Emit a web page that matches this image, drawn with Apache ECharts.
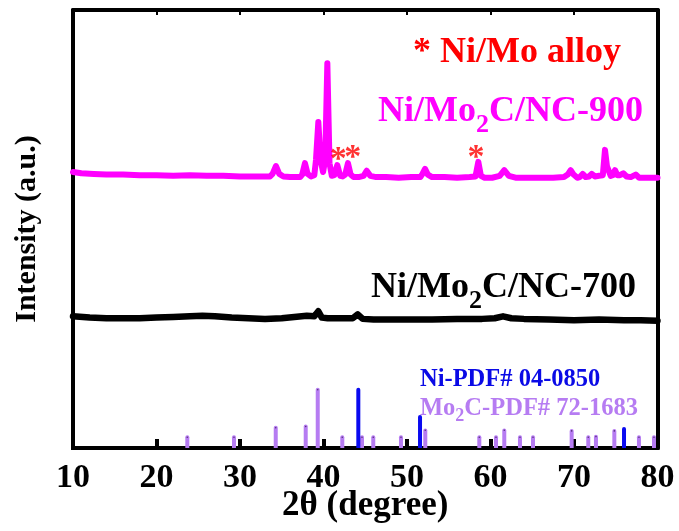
<!DOCTYPE html>
<html><head><meta charset="utf-8">
<script src="https://cdn.jsdelivr.net/npm/echarts@6/dist/echarts.min.js"></script>
<style>html,body{margin:0;padding:0;background:#fff}#c{width:679px;height:531px}</style>
</head><body><div id="c"></div>
<script>
// ---- data ----
const xMin = 10, xMax = 80, xStep = 10;
const xTickLabels = ['10','20','30','40','50','60','70','80'];

const t900 = [10,11,12.5,14,16,18,20,22,24,26,28,30,32,33.6,33.9,34.31,34.7,35.2,36,37.2,37.45,37.78,38.1,38.5,38.9,39.1,39.38,39.65,39.95,40.2,40.46,40.72,41.0,41.3,41.65,42.0,42.3,42.6,42.93,43.25,43.6,44.2,44.8,45.17,45.6,46.3,47.5,49,50.5,51.6,51.85,52.16,52.5,53,54.5,56,57.5,58.2,58.54,58.85,59.3,60.2,61.1,61.65,62.2,63,64.5,66,67.5,68.8,69.25,69.6,69.95,70.4,70.7,71.04,71.4,71.8,72.12,72.5,73.0,73.45,73.71,73.95,74.1,74.4,74.65,74.91,75.2,75.5,75.9,76.3,76.8,77.39,77.8,78.5,79.2,80];
const i900 = [4.36,4.34,4.33,4.32,4.32,4.31,4.31,4.30,4.31,4.30,4.30,4.29,4.29,4.29,4.33,4.455,4.33,4.29,4.28,4.28,4.32,4.50,4.33,4.29,4.31,4.55,5.15,4.55,4.36,4.55,6.08,4.5,4.3,4.31,4.47,4.30,4.29,4.32,4.50,4.32,4.28,4.28,4.30,4.38,4.30,4.28,4.28,4.27,4.28,4.28,4.33,4.41,4.32,4.28,4.28,4.27,4.28,4.29,4.52,4.30,4.27,4.27,4.30,4.39,4.30,4.27,4.27,4.27,4.27,4.28,4.32,4.39,4.32,4.27,4.28,4.33,4.28,4.29,4.33,4.29,4.30,4.31,4.71,4.45,4.42,4.30,4.31,4.39,4.31,4.31,4.34,4.29,4.28,4.32,4.27,4.27,4.27,4.27];

const t700 = [10,12,14,16,18,20,22,24,25.5,27,29,31,33,35,36.5,38,38.9,39.38,39.8,40.5,42,43.5,44.1,44.7,46,48,50,53,56,59,60.5,61.5,62.5,64,67,70,73,76,78,80];
const i700 = [2.08,2.06,2.05,2.05,2.05,2.06,2.07,2.08,2.09,2.08,2.06,2.05,2.04,2.05,2.07,2.09,2.08,2.16,2.06,2.05,2.05,2.05,2.11,2.04,2.03,2.03,2.03,2.03,2.04,2.04,2.05,2.08,2.05,2.04,2.03,2.02,2.03,2.02,2.02,2.01];

const niPos = [44.17, 51.56, 75.99];
const niH   = [0.95, 0.52, 0.33];
const mo2cPos = [23.69,29.28,34.28,37.87,39.31,42.25,44.61,45.96,49.28,52.19,58.66,60.66,61.65,63.53,65.09,69.72,71.71,72.63,74.83,77.78,79.58];
const mo2cH   = [0.2,0.2,0.35,0.37,0.95,0.2,0.2,0.2,0.2,0.31,0.2,0.2,0.31,0.2,0.2,0.3,0.2,0.21,0.3,0.2,0.2];

const starPos = [41.77, 43.5, 58.26];
const starY   = [4.71, 4.74, 4.73];

// ---- chart ----
const zip = (a,b) => a.map((v,i)=>[v,b[i]]);
const FONT = "'Liberation Serif','Times New Roman',serif";
const chart = echarts.init(document.getElementById('c'), null, {renderer:'canvas'});
const yMax = 6.92;
const frameLine = {show:true,onZero:false,lineStyle:{color:'#000',width:4}};
const option = {
  animation:false,
  backgroundColor:'#fff',
  grid:{left:73,right:21.5,top:10,bottom:83,containLabel:false,outerBoundsMode:'none'},
  xAxis:[{
    type:'value',min:xMin,max:xMax,interval:xStep,position:'bottom',
    axisLine:frameLine,
    axisTick:{show:true,inside:true,length:9,lineStyle:{color:'#000',width:4}},
    axisLabel:{margin:13,color:'#000',fontSize:34,fontWeight:'bold',fontFamily:FONT,
      formatter:(v)=>xTickLabels[Math.round((v-xMin)/xStep)]},
    splitLine:{show:false},
    name:'2θ (degree)',nameLocation:'middle',nameGap:40,nameMoveOverlap:false,
    nameTextStyle:{color:'#000',fontSize:35,fontWeight:'bold',fontFamily:FONT}
  },{
    type:'value',min:xMin,max:xMax,interval:xStep,position:'top',
    axisLine:frameLine,
    axisTick:{show:true,inside:true,length:5,lineStyle:{color:'#000',width:2}},
    axisLabel:{show:false},splitLine:{show:false}
  }],
  yAxis:[{
    type:'value',min:0,max:yMax,interval:1,position:'left',
    axisLine:frameLine,
    axisTick:{show:true,inside:false,length:2,lineStyle:{color:'#000',width:3}},
    axisLabel:{show:false},splitLine:{show:false},
    name:'Intensity (a.u.)',nameLocation:'middle',nameGap:31,nameRotate:90,nameMoveOverlap:false,
    nameTextStyle:{color:'#000',fontSize:30,fontWeight:'bold',fontFamily:FONT}
  },{
    type:'value',min:0,max:yMax,interval:1,position:'right',
    axisLine:frameLine,
    axisTick:{show:true,inside:false,length:2,lineStyle:{color:'#000',width:3}},
    axisLabel:{show:false},splitLine:{show:false}
  }],
  series:[
    {type:'bar',name:'Mo2C',data:zip(mo2cPos,mo2cH),barWidth:4,barGap:'-100%',z:3,
     itemStyle:{color:'#b67cf2',borderRadius:[2,2,0,0]}},
    {type:'bar',name:'Ni',data:zip(niPos,niH),barWidth:4,barGap:'-100%',z:3,
     itemStyle:{color:'#0a0af0',borderRadius:[2,2,0,0]}},
    {type:'scatter',data:zip(mo2cPos,mo2cH.map(h=>h-0.03)),symbolSize:1.6,z:4,
     itemStyle:{color:'#40205a'}},
    {type:'line',name:'700',data:zip(t700,i700),showSymbol:false,z:5,
     lineStyle:{color:'#000',width:6.5,join:'round',cap:'round'}},
    {type:'line',name:'900',data:zip(t900,i900),showSymbol:false,z:5,
     lineStyle:{color:'#ff00ff',width:6,join:'round',cap:'round'}},
    {type:'scatter',data:zip(starPos,starY),symbolSize:0,z:6,
     label:{show:true,position:'inside',formatter:'*',offset:[0,10],color:'#ff0000',
       fontSize:34,fontWeight:'bold',fontFamily:FONT}}
  ],
  graphic:[
    {type:'text',left:413,top:35,z:10,style:{text:'* Ni/Mo alloy',fill:'#ff0000',
      font:"bold 36px "+FONT}},
    {type:'text',left:378,top:94,z:10,style:{
      text:'{a|Ni/Mo}{s|2}{a|C/NC-900}',
      rich:{a:{fill:'#ff00ff',fontSize:36,fontWeight:'bold',fontFamily:FONT,lineHeight:42},
            s:{fill:'#ff00ff',fontSize:26,fontWeight:'bold',fontFamily:FONT,padding:[26,0,0,0]}}}},
    {type:'text',left:371,top:270,z:10,style:{
      text:'{a|Ni/Mo}{s|2}{a|C/NC-700}',
      rich:{a:{fill:'#000',fontSize:36,fontWeight:'bold',fontFamily:FONT,lineHeight:42},
            s:{fill:'#000',fontSize:26,fontWeight:'bold',fontFamily:FONT,padding:[26,0,0,0]}}}},
    {type:'text',left:420,top:367,z:10,style:{text:'Ni-PDF# 04-0850',fill:'#0a0ae6',
      font:"bold 24.5px "+FONT}},
    {type:'text',left:420,top:396,z:10,style:{
      text:'{a|Mo}{s|2}{a|C-PDF# 72-1683}',
      rich:{a:{fill:'#b67cf2',fontSize:24.5,fontWeight:'bold',fontFamily:FONT,lineHeight:29},
            s:{fill:'#b67cf2',fontSize:18,fontWeight:'bold',fontFamily:FONT,padding:[16,0,0,0]}}}}
  ]
};
chart.setOption(option);
</script></body></html>
